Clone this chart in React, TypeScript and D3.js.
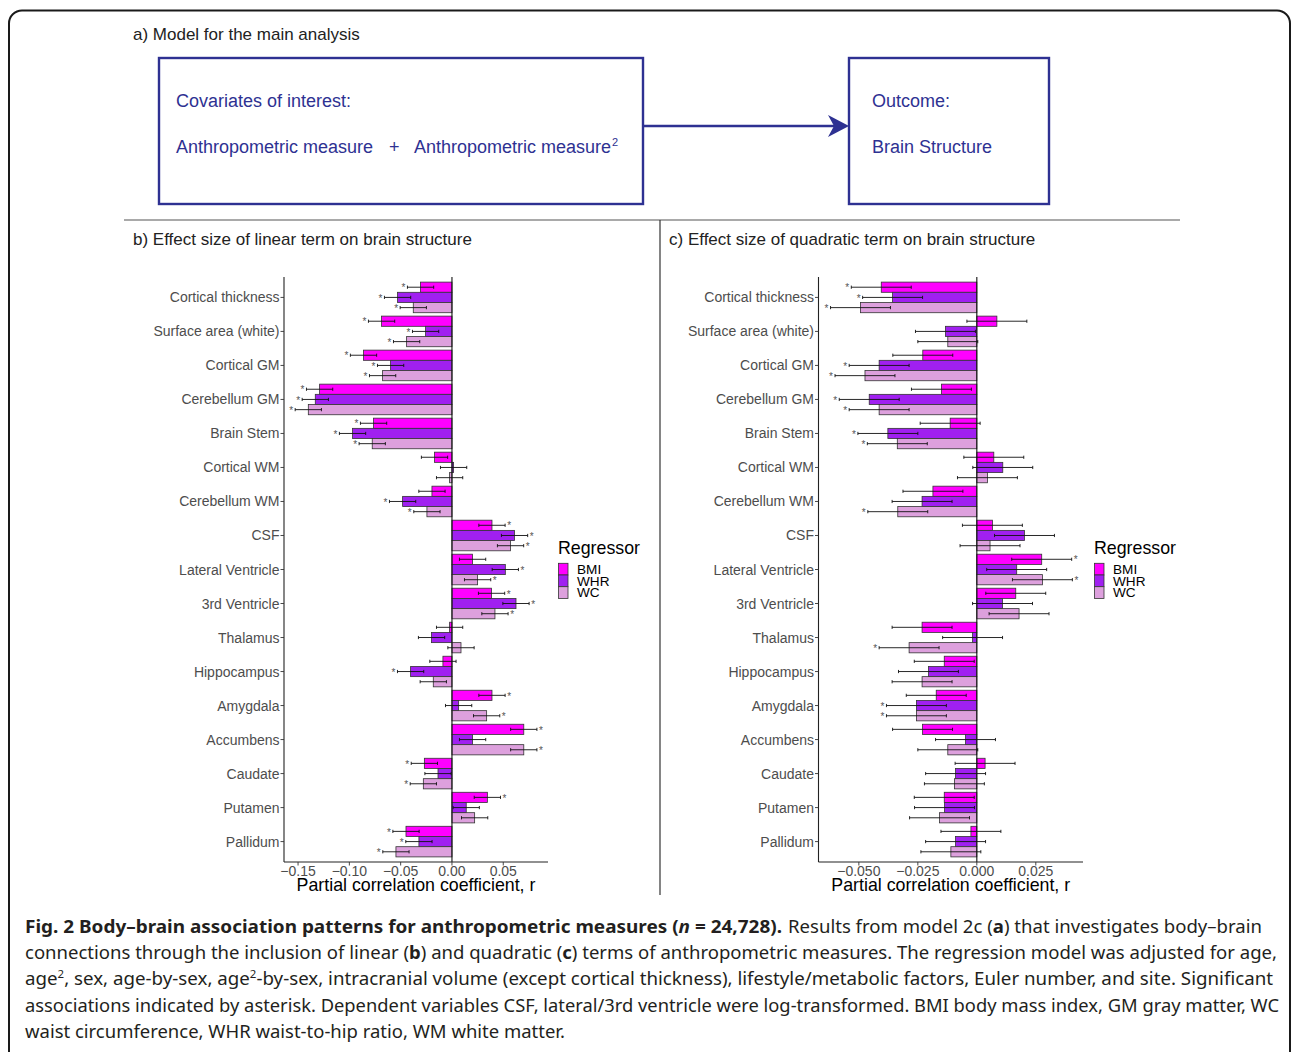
import React from "react";
import * as d3 from "d3";

const regions = [
  "Cortical thickness", "Surface area (white)", "Cortical GM", "Cerebellum GM", "Brain Stem",
  "Cortical WM", "Cerebellum WM", "CSF", "Lateral Ventricle", "3rd Ventricle", "Thalamus",
  "Hippocampus", "Amygdala", "Accumbens", "Caudate", "Putamen", "Pallidum",
];
const regressors = ["BMI", "WHR", "WC"];
const colors = ["#FF00FF", "#A020F0", "#DDA0DD"];

// panel b: linear term
const linearBMI = [-0.0306, -0.0686, -0.0862, -0.129, -0.0764, -0.017, -0.0195, 0.039, 0.0201, 0.0386, -0.0023, -0.0088, 0.039, 0.07, -0.0269, 0.0345, -0.0448];
const linearWHR = [-0.053, -0.0257, -0.0598, -0.1332, -0.0969, 0.0016, -0.0481, 0.061, 0.052, 0.0624, -0.0199, -0.0403, 0.0065, 0.0201, -0.0136, 0.0139, -0.0322];
const linearWC = [-0.0377, -0.0442, -0.0676, -0.14, -0.0777, -0.0023, -0.0244, 0.0571, 0.025, 0.0419, 0.0088, -0.0182, 0.0338, 0.07, -0.0279, 0.0221, -0.0546];
const linearSigBMI = [1, 1, 1, 1, 1, 0, 0, 1, 0, 1, 0, 0, 1, 1, 1, 1, 1];
const linearSigWHR = [1, 1, 1, 1, 1, 0, 1, 1, 1, 1, 0, 1, 0, 0, 0, 0, 1];
const linearSigWC = [1, 1, 1, 1, 1, 0, 1, 1, 1, 1, 0, 0, 1, 1, 1, 0, 1];
const linearCI = 0.0128;
const linearTicks = [-0.15, -0.1, -0.05, 0, 0.05];

// panel c: quadratic term
const quadBMI = [-0.0405, 0.0085, -0.0229, -0.015, -0.0113, 0.0072, -0.0186, 0.0066, 0.0275, 0.0165, -0.0232, -0.0138, -0.0172, -0.023, 0.0035, -0.0138, -0.0025];
const quadWHR = [-0.0357, -0.0133, -0.0414, -0.0456, -0.0377, 0.011, -0.0232, 0.0202, 0.0169, 0.0109, -0.0018, -0.0205, -0.0256, -0.0048, -0.009, -0.0137, -0.009];
const quadWC = [-0.0493, -0.0123, -0.0474, -0.0414, -0.0337, 0.0045, -0.0335, 0.0056, 0.0278, 0.0179, -0.0287, -0.0232, -0.0256, -0.0123, -0.0095, -0.0158, -0.011];
const quadSigBMI = [1, 0, 0, 0, 0, 0, 0, 0, 1, 0, 0, 0, 0, 0, 0, 0, 0];
const quadSigWHR = [1, 0, 1, 1, 1, 0, 0, 0, 0, 0, 0, 0, 1, 0, 0, 0, 0];
const quadSigWC = [1, 0, 1, 1, 1, 0, 1, 0, 1, 0, 1, 0, 1, 0, 0, 0, 0];
const quadCI = 0.0127;
const quadTicks = [-0.05, -0.025, 0, 0.025];

const FONT = "'Liberation Sans', Arial, sans-serif";
const NAVY = "#2E3192";
const AXIS_GREY = "#4D4D4D";

type PanelProps = {
  x0: number; x1: number; y0: number; y1: number;
  domain: [number, number];
  values: number[][]; sig: number[][]; ci: number;
  ticks: number[]; tickFmt: (v: number) => string;
  legendX: number;
};

function Panel(p: PanelProps) {
  const x = d3.scaleLinear().domain(p.domain).range([p.x0, p.x1]);
  const y = d3.scaleBand<string>().domain(regions).range([p.y0, p.y1]).paddingInner(0.1).paddingOuter(0.15);
  const sub = d3.scaleBand<string>().domain(regressors).range([0, y.bandwidth()]);
  const centerY = (r: string) => (y(r) as number) + y.bandwidth() / 2;
  const fmt = p.tickFmt;
  return (
    <g>
      {regions.map((r, i) =>
        regressors.map((s, j) => {
          const v = p.values[j][i];
          const by = (y(r) as number) + (sub(s) as number);
          const bh = sub.bandwidth();
          return (
            <rect key={r + s} x={Math.min(x(0), x(v))} y={by} width={Math.abs(x(v) - x(0))} height={bh}
              fill={colors[j]} stroke="#333" strokeWidth={0.8} />
          );
        })
      )}
      <line x1={x(0)} x2={x(0)} y1={p.y0} y2={p.y1} stroke="#111" strokeWidth={1.1} />
      {regions.map((r, i) =>
        regressors.map((s, j) => {
          const v = p.values[j][i];
          const cy = (y(r) as number) + (sub(s) as number) + sub.bandwidth() / 2;
          const lo = x(v - p.ci), hi = x(v + p.ci);
          return (
            <g key={"e" + r + s} stroke="#111" strokeWidth={0.9}>
              <line x1={lo} x2={hi} y1={cy} y2={cy} />
              <line x1={lo} x2={lo} y1={cy - 1.6} y2={cy + 1.6} />
              <line x1={hi} x2={hi} y1={cy - 1.6} y2={cy + 1.6} />
            </g>
          );
        })
      )}
      {regions.map((r, i) =>
        regressors.map((s, j) => {
          if (!p.sig[j][i]) return null;
          const v = p.values[j][i];
          const cy = (y(r) as number) + (sub(s) as number) + sub.bandwidth() / 2;
          const ax = v < 0 ? x(v - p.ci) - 4 : x(v + p.ci) + 4;
          return (
            <text key={"a" + r + s} x={ax} y={cy + 4.2} fontSize={10} fill="#555" textAnchor="middle" fontFamily={FONT}>*</text>
          );
        })
      )}
      <line x1={p.x0} x2={p.x0} y1={p.y0} y2={p.y1} stroke="#222" strokeWidth={1.1} />
      <line x1={p.x0} x2={p.x1} y1={p.y1} y2={p.y1} stroke="#222" strokeWidth={1.1} />
      {regions.map((r) => (
        <g key={"yt" + r}>
          <line x1={p.x0 - 3.5} x2={p.x0} y1={centerY(r)} y2={centerY(r)} stroke="#333" strokeWidth={0.9} />
          <text x={p.x0 - 4.5} y={centerY(r) + 5} textAnchor="end" fontSize={14} fill={AXIS_GREY} fontFamily={FONT}>{r}</text>
        </g>
      ))}
      {p.ticks.map((t) => (
        <g key={"xt" + t}>
          <line x1={x(t)} x2={x(t)} y1={p.y1} y2={p.y1 + 3.5} stroke="#333" strokeWidth={0.9} />
          <text x={x(t)} y={p.y1 + 14} textAnchor="middle" fontSize={14} fill={AXIS_GREY} fontFamily={FONT}>{fmt(t)}</text>
        </g>
      ))}
      <text x={(p.x0 + p.x1) / 2} y={p.y1 + 29} textAnchor="middle" fontSize={17.8} fill="#000" fontFamily={FONT}>
        Partial correlation coefficient, r
      </text>
      <text x={p.legendX} y={554} fontSize={17.8} fill="#000" fontFamily={FONT}>Regressor</text>
      {regressors.map((s, j) => (
        <g key={"lg" + s}>
          <rect x={p.legendX + 0.5} y={563.3 + j * 11.7} width={9.5} height={11.7} fill={colors[j]} stroke="#333" strokeWidth={0.8} />
          <text x={p.legendX + 19} y={563.3 + j * 11.7 + 10.5} fontSize={13.6} fill="#000" fontFamily={FONT}>{s}</text>
        </g>
      ))}
    </g>
  );
}

const minus = (s: string) => s.replace("-", "\u2212");
const fmtLinear = (v: number) => minus(d3.format(".2f")(v));
const fmtQuad = (v: number) => minus(d3.format(".3f")(v));

const CAP = "'Noto Sans', 'Open Sans', sans-serif";

export default function App() {
  return (
    <div style={{ position: "absolute", left: 0, top: 0, width: 1292, height: 1052, background: "#fff" }}>
      <svg width={1292} height={1052} viewBox="0 0 1292 1052" style={{ display: "block" }}>
        <rect x={0} y={0} width={1292} height={1052} fill="#fff" />
        <rect x={9} y={10.5} width={1281} height={1120} rx={13} fill="none" stroke="#1a1a1a" strokeWidth={2} />

        <text x={133} y={40} fontSize={17} fill="#222" fontFamily={FONT}>a) Model for the main analysis</text>
        <rect x={159} y={58} width={484} height={146} fill="none" stroke={NAVY} strokeWidth={2.4} />
        <rect x={849} y={58} width={200} height={146} fill="none" stroke={NAVY} strokeWidth={2.4} />
        <line x1={643} x2={836} y1={126} y2={126} stroke={NAVY} strokeWidth={2.4} />
        <path d="M849,126 L828,115 L834,126 L828,137 Z" fill={NAVY} />
        <g fontFamily={FONT} fontSize={18} fill={NAVY}>
          <text x={176} y={106.5}>Covariates of interest:</text>
          <text x={176} y={152.5}>Anthropometric measure</text>
          <text x={389} y={152.5}>+</text>
          <text x={414} y={152.5}>Anthropometric measure<tspan fontSize={11} dx={1} dy={-7}>2</tspan></text>
          <text x={872} y={106.5}>Outcome:</text>
          <text x={872} y={152.5}>Brain Structure</text>
        </g>

        <line x1={124} x2={1180} y1={220} y2={220} stroke="#555" strokeWidth={1.2} />
        <line x1={660} x2={660} y1={220} y2={895} stroke="#333" strokeWidth={1.2} />
        <text x={133} y={245} fontSize={17} fill="#222" fontFamily={FONT}>b) Effect size of linear term on brain structure</text>
        <text x={669} y={245} fontSize={17} fill="#222" fontFamily={FONT}>c) Effect size of quadratic term on brain structure</text>

        <Panel x0={284} x1={548} y0={277} y1={862} domain={[-0.1637, 0.0936]}
          values={[linearBMI, linearWHR, linearWC]} sig={[linearSigBMI, linearSigWHR, linearSigWC]} ci={linearCI}
          ticks={linearTicks} tickFmt={fmtLinear} legendX={558} />
        <Panel x0={818.5} x1={1083} y0={277} y1={862} domain={[-0.0671, 0.045]}
          values={[quadBMI, quadWHR, quadWC]} sig={[quadSigBMI, quadSigWHR, quadSigWC]} ci={quadCI}
          ticks={quadTicks} tickFmt={fmtQuad} legendX={1094} />

        <g fontFamily={CAP} fontSize={18} fill="#231F20">
          <text x={25} y={933}>
            <tspan fontWeight={700} textLength={757} lengthAdjust="spacingAndGlyphs">Fig. 2 Body–brain association patterns for anthropometric measures (<tspan fontStyle="italic">n</tspan> = 24,728).</tspan>
          </text>
          <text x={788} y={933} textLength={474} lengthAdjust="spacingAndGlyphs">
            Results from model 2c (<tspan fontWeight={700}>a</tspan>) that investigates body–brain
          </text>
          <text x={25} y={959} textLength={1252} lengthAdjust="spacingAndGlyphs">
            connections through the inclusion of linear (<tspan fontWeight={700}>b</tspan>) and quadratic (<tspan fontWeight={700}>c</tspan>) terms of anthropometric measures. The regression model was adjusted for age,
          </text>
          <text x={25} y={985} textLength={1248} lengthAdjust="spacingAndGlyphs">
            age<tspan fontSize={11} dy={-7}>2</tspan><tspan dy={7}>, sex, age-by-sex, age</tspan><tspan fontSize={11} dy={-7}>2</tspan><tspan dy={7}>-by-sex, intracranial volume (except cortical thickness), lifestyle/metabolic factors, Euler number, and site. Significant</tspan>
          </text>
          <text x={25} y={1012} textLength={1254} lengthAdjust="spacingAndGlyphs">
            associations indicated by asterisk. Dependent variables CSF, lateral/3rd ventricle were log-transformed. BMI body mass index, GM gray matter, WC
          </text>
          <text x={25} y={1038} textLength={540} lengthAdjust="spacingAndGlyphs">
            waist circumference, WHR waist-to-hip ratio, WM white matter.
          </text>
        </g>
      </svg>
    </div>
  );
}
